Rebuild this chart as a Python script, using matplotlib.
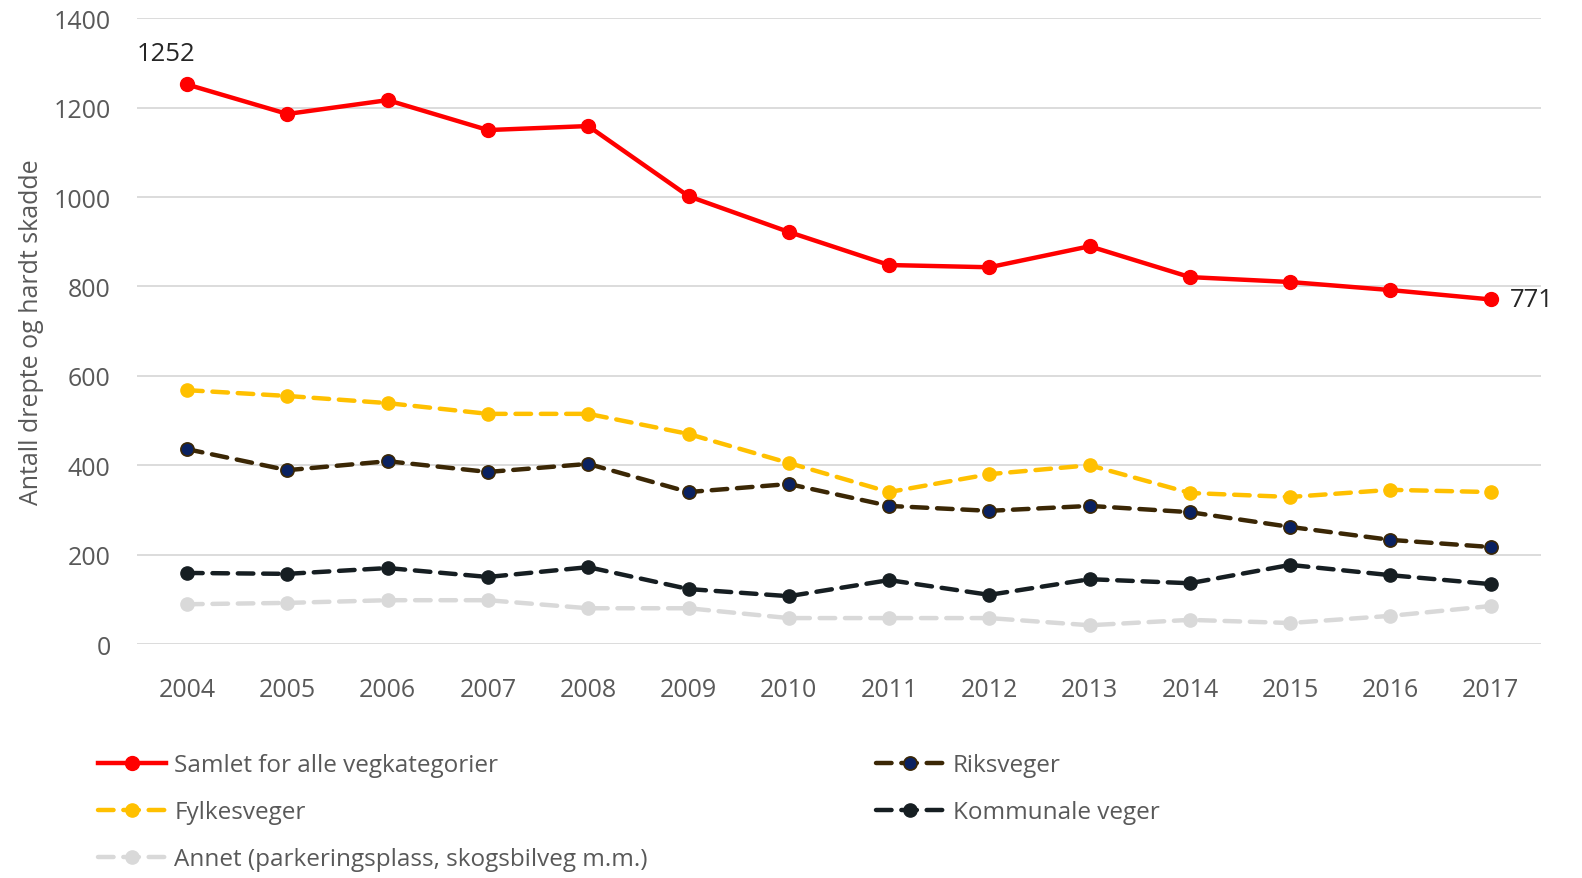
import numpy as np
import matplotlib.pyplot as plt

plt.rcParams['font.family'] = ['Open Sans', 'DejaVu Sans']

years = list(range(2004, 2018))
samlet = [1252, 1186, 1217, 1150, 1159, 1002, 922, 848, 843, 890, 821, 810, 792, 771]
fylkesveger = [568, 555, 539, 515, 515, 470, 405, 340, 380, 400, 338, 329, 345, 340]
riksveger = [436, 389, 409, 385, 403, 340, 358, 309, 298, 309, 295, 262, 233, 217]
kommunale = [159, 157, 170, 150, 172, 123, 107, 143, 110, 145, 136, 177, 154, 134]
annet = [89, 92, 98, 98, 80, 80, 58, 58, 58, 42, 54, 47, 63, 85]

grey = '#595959'

fig = plt.figure(figsize=(15.82, 8.79), dpi=100)
ax = fig.add_axes([0.0866, 0.2662, 0.8874, 0.7118])

dash = dict(linestyle=(0, (3.5, 2.2)), dash_capstyle='round', lw=3.2, marker='o', markersize=9.5)

ax.plot(years, samlet, color='#FF0000', lw=3.2, marker='o', markersize=10,
        label='Samlet for alle vegkategorier', zorder=6)
ax.plot(years, fylkesveger, color='#FFC000', label='Fylkesveger', zorder=5, **dash)
ax.plot(years, annet, color='#D9D9D9', label='Annet (parkeringsplass, skogsbilveg m.m.)', zorder=2, **dash)
ax.plot(years, riksveger, color='#3B2705', markerfacecolor='#0A2160', markeredgecolor='#3B2705',
        markeredgewidth=1.2, label='Riksveger', zorder=4, **dash)
ax.plot(years, kommunale, color='#161E22', label='Kommunale veger', zorder=3, **dash)

ax.annotate(str(samlet[0]), (years[0], samlet[0]), xytext=(-15, 13), textcoords='offset points',
            fontsize=18.5, color='#262626', ha='center', va='bottom')
ax.annotate(str(samlet[-1]), (years[-1], samlet[-1]), xytext=(14, 0), textcoords='offset points',
            fontsize=18.5, color='#262626', ha='left', va='center')

ax.set_xlim(2003.5, 2017.5)
ax.set_ylim(0, 1400)
ax.set_yticks(np.arange(0, 1401, 200))
ax.set_xticks(years)
ax.grid(axis='y', color='#D9D9D9', lw=1.3)
ax.set_axisbelow(True)
for s in ax.spines.values():
    s.set_visible(False)
ax.tick_params(length=0, labelsize=18, colors=grey)
ax.tick_params(axis='x', pad=24)
ax.tick_params(axis='y', pad=19)
ax.set_ylabel('Antall drepte og hardt skadde', fontsize=18, color=grey, labelpad=7)

fig.legend(loc='upper left', bbox_to_anchor=(0.048, 0.167), ncol=2, frameon=False,
           fontsize=17.5, labelcolor=grey, handlelength=2.8, handletextpad=0.35,
           columnspacing=9.4, labelspacing=0.95)

fig.savefig('out.png', dpi=100)
